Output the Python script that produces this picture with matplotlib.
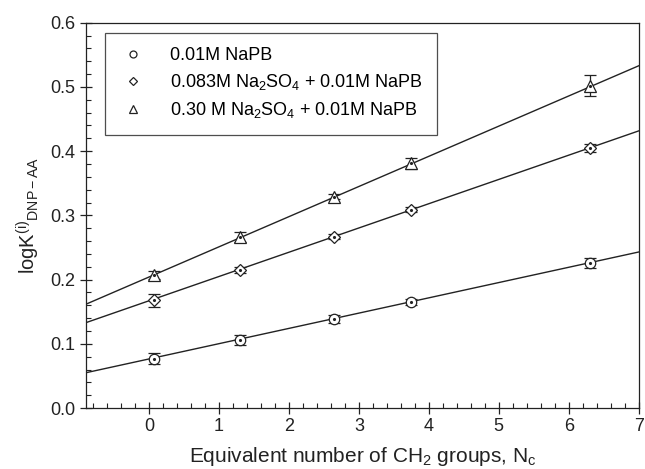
import numpy as np
import matplotlib
matplotlib.use("Agg")
import matplotlib.pyplot as plt
from matplotlib.ticker import MultipleLocator

plt.rcParams['font.family'] = ['Liberation Sans', 'DejaVu Sans']
plt.rcParams['mathtext.fontset'] = 'custom'
plt.rcParams['mathtext.rm'] = 'Liberation Sans'
plt.rcParams['mathtext.it'] = 'Liberation Sans'

# Data
nc = [0.07, 1.3, 2.65, 3.75, 6.3]
s1 = [0.077, 0.106, 0.139, 0.165, 0.226]
e1 = [0.008, 0.008, 0.006, 0.005, 0.008]
s2 = [0.168, 0.215, 0.267, 0.309, 0.405]
e2 = [0.010, 0.004, 0.004, 0.004, 0.006]
s3 = [0.207, 0.266, 0.329, 0.381, 0.502]
e3 = [0.006, 0.008, 0.004, 0.009, 0.016]
labels = ['0.01M NaPB',
          '0.083M Na$_2$SO$_4$ + 0.01M NaPB',
          '0.30 M Na$_2$SO$_4$ + 0.01M NaPB']
# fitted lines (slope, intercept)
fit_slope = [0.0238, 0.0378, 0.0470]
fit_inter = [0.0764, 0.167, 0.204]

fig = plt.figure(figsize=(6.45, 4.69), dpi=100)
ax = fig.add_axes([0.1333, 0.130, 0.857, 0.8215])

xl = np.array([-0.9, 7.0])
markers = ['o', 'D', '^']
msizes = [7.5, 6.5, 8]
for ys, es, m, ms, lab, sl, ic in zip([s1, s2, s3], [e1, e2, e3], markers, msizes, labels, fit_slope, fit_inter):
    ax.plot(xl, sl * xl + ic, color='#222222', lw=1.0, zorder=1)
    ax.errorbar(nc, ys, yerr=es, fmt='none', ecolor='#222222', elinewidth=0.9, capsize=4.5, capthick=0.9, zorder=2)
    ax.plot(nc, ys, linestyle='none', marker=m, ms=ms, mfc='white', mec='#222222', mew=0.9, zorder=3)
    ax.plot(nc, ys, linestyle='none', marker='.', ms=2.5, color='#222222', zorder=4)
    ax.plot([], [], linestyle='none', marker=m, ms=ms - 2.5, mfc='white', mec='#222222', mew=0.9, label=lab)

ax.set_xlim(-0.9, 7.0)
ax.set_ylim(0.0, 0.6)
ax.xaxis.set_major_locator(MultipleLocator(1))
ax.xaxis.set_minor_locator(MultipleLocator(0.2))
ax.yaxis.set_major_locator(MultipleLocator(0.1))
ax.yaxis.set_minor_locator(MultipleLocator(0.02))
ax.tick_params(which='major', direction='inout', length=8, width=0.9, labelsize=13, colors='#222222')
ax.tick_params(which='minor', direction='in', length=3.5, width=0.8, colors='#222222')
for s in ax.spines.values():
    s.set_linewidth(0.9)
    s.set_color('#222222')

ax.set_xlabel('Equivalent number of CH$_2$ groups, N$_c$', fontsize=15, color='#222222', labelpad=7)
ax.set_ylabel('logK$^{(i)}$$_{\\mathregular{DNP-AA}}$', fontsize=14.5, color='#222222', labelpad=6)

leg = ax.legend(loc='upper left', bbox_to_anchor=(0.034, 0.974), fontsize=13, frameon=True, fancybox=False,
                edgecolor='#222222', handletextpad=1.3, borderpad=0.8, labelspacing=0.45, handlelength=1.5,
                borderaxespad=0)
leg.get_frame().set_linewidth(0.9)

fig.savefig('out.png', dpi=100)
